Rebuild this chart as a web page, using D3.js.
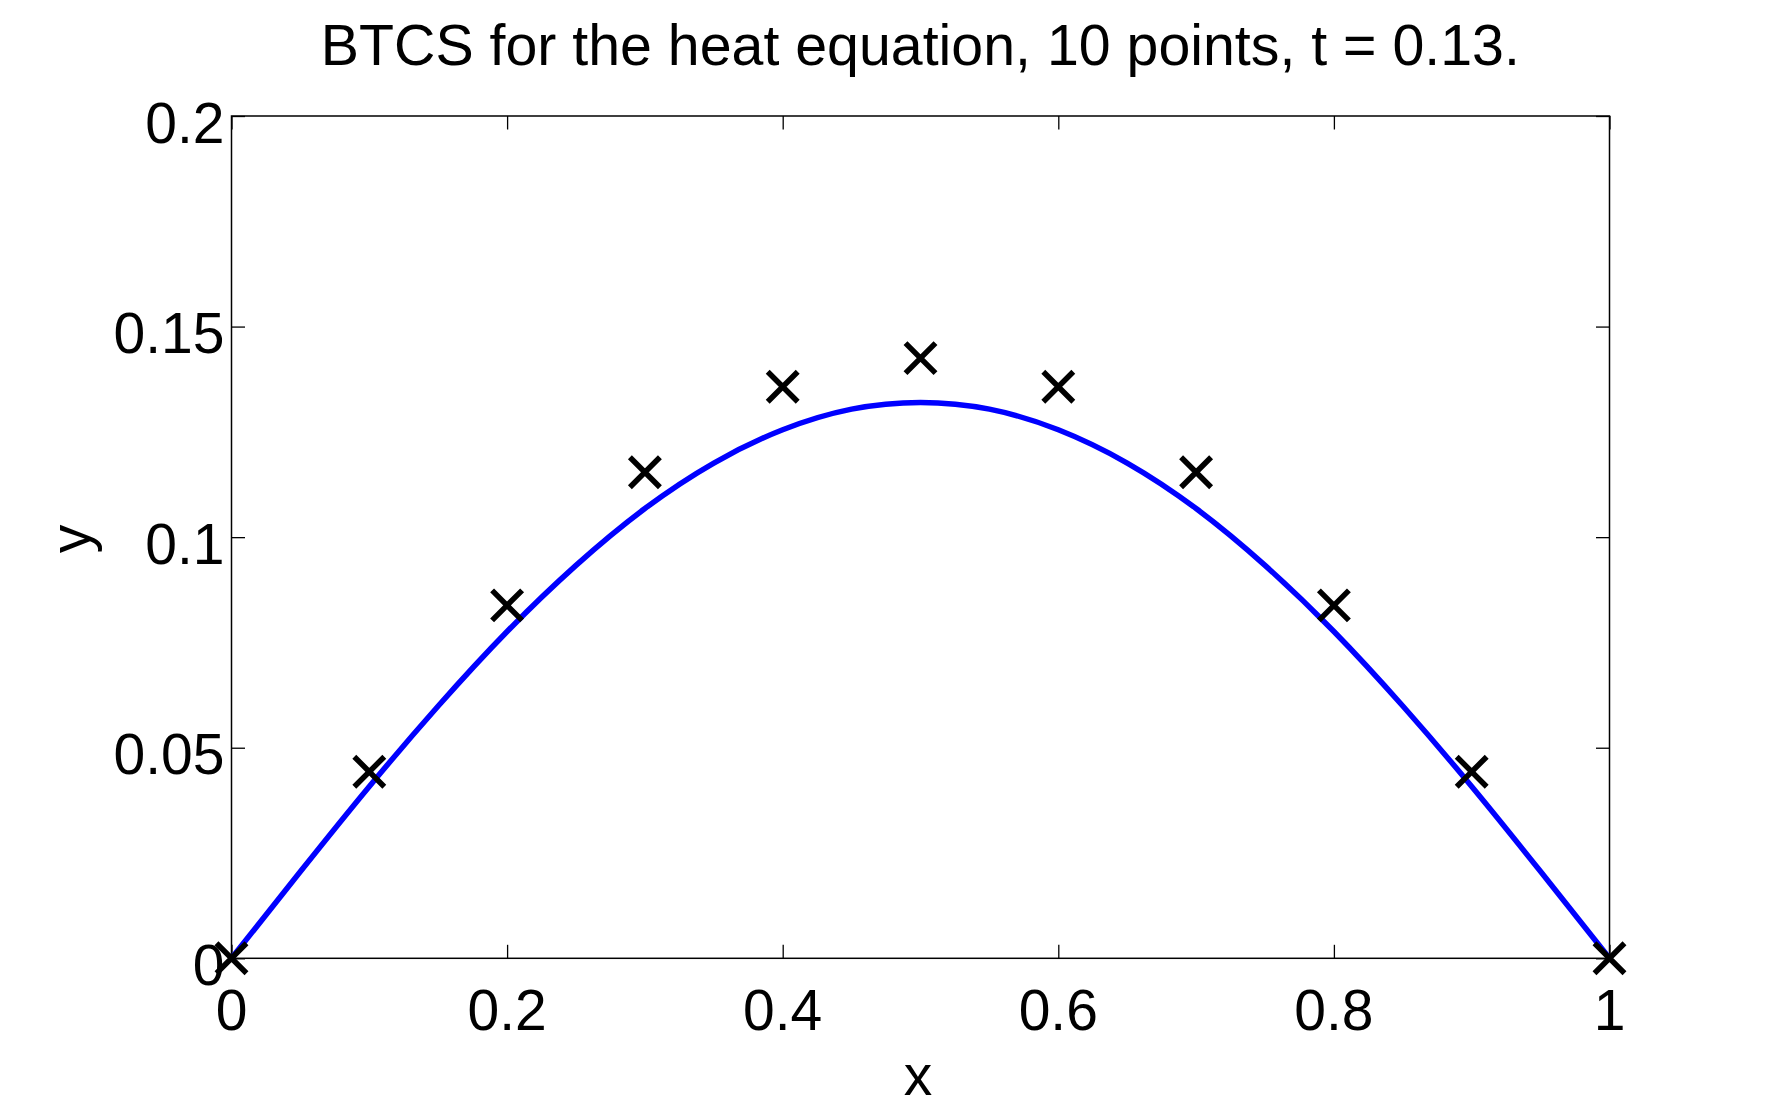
<!DOCTYPE html>
<html>
<head>
<meta charset="utf-8">
<script src="https://cdn.jsdelivr.net/npm/d3@7"></script>
<style>
  html, body { margin: 0; padding: 0; background: #fff; }
  svg { display: block; }
  text { font-family: "Liberation Sans", Arial, Helvetica, sans-serif; fill: #000; }
</style>
</head>
<body>
<svg id="chart" width="1778" height="1110"></svg>
<script>
// ---- data ----
const titleText = "BTCS for the heat equation, 10 points, t = 0.13.";
const xLabel = "x";
const yLabel = "y";
const xTicks = [0, 0.2, 0.4, 0.6, 0.8, 1];
const xTickLabels = ["0", "0.2", "0.4", "0.6", "0.8", "1"];
const yTicks = [0, 0.05, 0.1, 0.15, 0.2];
const yTickLabels = ["0", "0.05", "0.1", "0.15", "0.2"];
// numerical (BTCS) solution, x markers
const pointX = [0, 0.1, 0.2, 0.3, 0.4, 0.5, 0.6, 0.7, 0.8, 0.9, 1.0];
const pointY = [0, 0.0443, 0.0838, 0.1154, 0.1357, 0.1425, 0.1357, 0.1154, 0.0838, 0.0443, 0];
// exact solution, blue curve
const curveX = [0, 0.05, 0.1, 0.15, 0.2, 0.25, 0.3, 0.35, 0.4, 0.45, 0.5, 0.55, 0.6, 0.65, 0.7, 0.75, 0.8, 0.85, 0.9, 0.95, 1.0];
const curveY = [0, 0.0206, 0.0408, 0.0599, 0.0776, 0.0933, 0.1068, 0.1176, 0.1255, 0.1304, 0.1320, 0.1304, 0.1255, 0.1176, 0.1068, 0.0933, 0.0776, 0.0599, 0.0408, 0.0206, 0];

// ---- layout ----
const L = 231.5, R = 1609.5, T = 116, B = 958.3;
const svg = d3.select("#chart");
const x = d3.scaleLinear().domain([0, 1]).range([L, R]);
const y = d3.scaleLinear().domain([0, 0.2]).range([B, T]);
const fs = 57;
const tickLen = 13.5;

// ticks (inward, all four sides) via d3 axes
const gB = svg.append("g").attr("transform", `translate(0,${B})`)
  .call(d3.axisTop(x).tickValues(xTicks).tickSize(tickLen).tickFormat(""));
const gT = svg.append("g").attr("transform", `translate(0,${T})`)
  .call(d3.axisBottom(x).tickValues(xTicks).tickSize(tickLen).tickFormat(""));
const gL = svg.append("g").attr("transform", `translate(${L},0)`)
  .call(d3.axisRight(y).tickValues(yTicks).tickSize(tickLen).tickFormat(""));
const gR = svg.append("g").attr("transform", `translate(${R},0)`)
  .call(d3.axisLeft(y).tickValues(yTicks).tickSize(tickLen).tickFormat(""));
[gB, gT, gL, gR].forEach(g => {
  g.select(".domain").remove();
  g.selectAll("line").attr("stroke", "#000").attr("stroke-width", 1.3);
});

// box
svg.append("rect").attr("x", L).attr("y", T).attr("width", R - L).attr("height", B - T)
  .attr("fill", "none").attr("stroke", "#000").attr("stroke-width", 1.5);

// tick labels
svg.append("g").selectAll("text").data(xTicks).join("text")
  .attr("x", d => x(d)).attr("y", B + 72)
  .attr("text-anchor", "middle").attr("font-size", fs)
  .text((d, i) => xTickLabels[i]);
svg.append("g").selectAll("text").data(yTicks).join("text")
  .attr("x", L - 7).attr("y", d => y(d) + 26.5)
  .attr("text-anchor", "end").attr("font-size", fs)
  .text((d, i) => yTickLabels[i]);

// curve
const line = d3.line().x(d => x(d[0])).y(d => y(d[1])).curve(d3.curveNatural);
svg.append("path").datum(curveX.map((v, i) => [v, curveY[i]]))
  .attr("d", line).attr("fill", "none").attr("stroke", "#0000ff").attr("stroke-width", 5.5);

// markers (x shape)
const h = 15;
svg.append("g").selectAll("path").data(pointX.map((v, i) => [v, pointY[i]])).join("path")
  .attr("d", d => {
    const cx = x(d[0]), cy = y(d[1]);
    return `M${cx - h},${cy - h}L${cx + h},${cy + h}M${cx - h},${cy + h}L${cx + h},${cy - h}`;
  })
  .attr("stroke", "#000").attr("stroke-width", 5.5).attr("fill", "none");

// title
svg.append("text").attr("x", (320.7 + 1520) / 2).attr("y", 65)
  .attr("text-anchor", "middle").attr("font-size", fs)
  .attr("textLength", 1199).attr("lengthAdjust", "spacingAndGlyphs")
  .text(titleText);

// axis labels
svg.append("text").attr("x", 918).attr("y", 1095)
  .attr("text-anchor", "middle").attr("font-size", fs).text(xLabel);
svg.append("text").attr("transform", "translate(90,539) rotate(-90)")
  .attr("text-anchor", "middle").attr("font-size", fs).text(yLabel);
</script>
</body>
</html>
